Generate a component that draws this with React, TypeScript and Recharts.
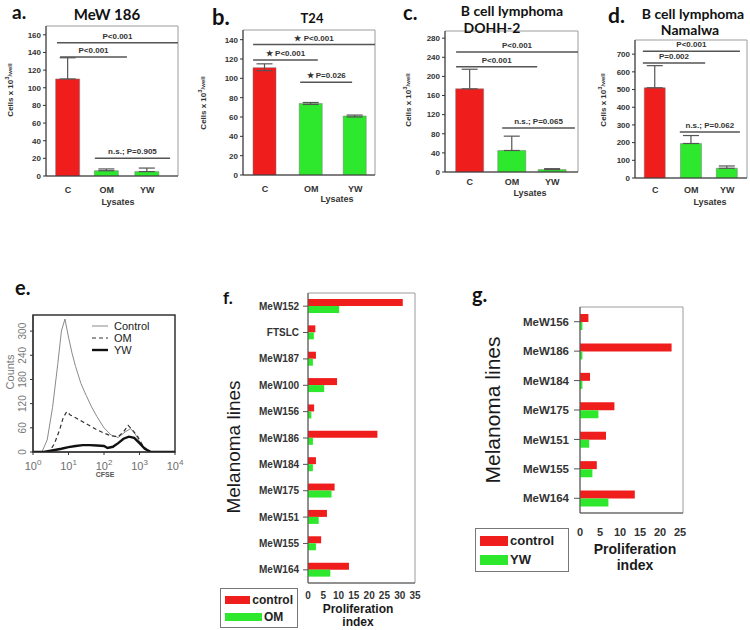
import React from 'react'
import {
  BarChart, Bar, Cell, XAxis, YAxis, ErrorBar, ReferenceLine, ReferenceArea,
  LineChart, Line, Legend,
} from 'recharts'

const RED = '#f01d1d'
const GREEN = '#2ee82e'
const INK = '#333'
const FRAME = '#9c9c9c'
const SANS = '"Liberation Sans", Arial, sans-serif'
const HEAD = 'Lato, "Open Sans", sans-serif'

// a-d: cells x 10^3/well after the lysates
const lysates = ['C', 'OM', 'YW']
const barColors = [RED, GREEN, GREEN]

// a. MeW 186
const mewPos = [0.5, 1.38, 2.3]
const mewCells = [110, 6, 5]
const mewErrDown = [0, 0, 0]
const mewErrUp = [24, 2, 4]
const mewSig = [
  { x1: 0.25, x2: 3, y: 151, text: 'P<0.001' },
  { x1: 0.32, x2: 1.84, y: 135, text: 'P<0.001' },
  { x1: 1.11, x2: 2.82, y: 20, text: 'n.s.; P=0.905' },
]

// b. T24
const t24Pos = [0.5, 1.55, 2.55]
const t24Cells = [111, 74, 61]
const t24ErrDown = [3, 1, 1]
const t24ErrUp = [4, 1, 1]
const t24Sig = [
  { x1: 0.23, x2: 3, y: 135, text: '★ P<0.001' },
  { x1: 0.23, x2: 1.7, y: 119, text: '★ P<0.001' },
  { x1: 1.3, x2: 2.48, y: 96, text: '★ P=0.026' },
]

// c. DOHH-2
const dohhPos = [0.56, 1.51, 2.42]
const dohhCells = [174, 45, 5]
const dohhErrDown = [0, 0, 0]
const dohhErrUp = [41, 30, 2]
const dohhSig = [
  { x1: 0.25, x2: 3, y: 251, text: 'P<0.001' },
  { x1: 0.25, x2: 2.08, y: 220, text: 'P<0.001' },
  { x1: 1.29, x2: 2.93, y: 92, text: 'n.s.; P=0.065' },
]

// d. Namalwa
const namPos = [0.54, 1.51, 2.47]
const namCells = [510, 195, 55]
const namErrDown = [0, 0, 0]
const namErrUp = [125, 45, 13]
const namSig = [
  { x1: 0.21, x2: 2.81, y: 717, text: 'P<0.001' },
  { x1: 0.21, x2: 1.88, y: 650, text: 'P=0.002' },
  { x1: 1.2, x2: 2.81, y: 260, text: 'n.s.; P=0.062' },
]

// e. CFSE histogram (x in log10 units)
const ctrlLog = [0, 0.25, 0.4, 0.55, 0.7, 0.8, 0.9, 1.0, 1.1, 1.2, 1.35, 1.5, 1.65, 1.8, 2.0, 2.2, 2.4, 2.6, 2.75, 2.9, 3.05, 3.2, 3.35, 4]
const ctrlCounts = [0, 0, 30, 110, 220, 300, 330, 285, 245, 212, 170, 140, 112, 88, 60, 42, 36, 50, 58, 42, 18, 4, 0, 0]
const omLog = [0, 0.45, 0.6, 0.75, 0.85, 0.95, 1.05, 1.2, 1.4, 1.6, 1.8, 2.0, 2.2, 2.4, 2.55, 2.68, 2.8, 2.95, 3.1, 3.25, 3.4, 4]
const omCounts = [0, 0, 20, 55, 85, 100, 92, 85, 75, 65, 55, 47, 40, 38, 50, 66, 55, 38, 15, 3, 0, 0]
const ywLog = [0, 0.3, 0.5, 0.8, 1.0, 1.2, 1.4, 1.6, 1.8, 2.0, 2.1, 2.25, 2.4, 2.55, 2.7, 2.85, 3.0, 3.15, 3.3, 3.5, 4]
const ywCounts = [0, 0, 3, 8, 12, 15, 17, 17, 16, 15, 10, 13, 22, 33, 38, 35, 22, 8, 1, 0, 0]
const flowNames = ['Control', 'OM', 'YW']

// f. proliferation index, OM
const fLines = ['MeW152', 'FTSLC', 'MeW187', 'MeW100', 'MeW156', 'MeW186', 'MeW184', 'MeW175', 'MeW151', 'MeW155', 'MeW164']
const fControl = [31, 2.4, 2.6, 9.5, 2, 22.7, 2.6, 8.7, 6.2, 4.3, 13.4]
const fOM = [10.2, 1.9, 1.6, 5.3, 1.1, 1.6, 1.6, 7.7, 3.5, 2.6, 7.3]
const fTicks = [0, 5, 10, 15, 20, 25, 30, 35]

// g. proliferation index, YW
const gLines = ['MeW156', 'MeW186', 'MeW184', 'MeW175', 'MeW151', 'MeW155', 'MeW164']
const gControl = [2.1, 22.9, 2.5, 8.6, 6.5, 4.2, 13.7]
const gYW = [0.6, 0.6, 0.6, 4.6, 2.3, 3.1, 7.1]
const gTicks = [0, 5, 10, 15, 20, 25]

type Sig = { x1: number; x2: number; y: number; text: string }
type Margin = { top: number; right: number; bottom: number; left: number }

const Tag = ({ x, y, text, size }: { x: number; y: number; text: string; size: number }) => (
  <div style={{ position: 'absolute', left: x, top: y, fontFamily: HEAD, fontWeight: 'bold', fontSize: size, lineHeight: 1.15, color: '#111' }}>
    {text}
  </div>
)

const Title = ({ cx, y, text, size }: { cx: number; y: number; text: string; size: number }) => (
  <div style={{ position: 'absolute', left: cx, top: y, transform: 'translateX(-50%)', whiteSpace: 'nowrap', fontFamily: HEAD, fontWeight: 'bold', fontSize: size, lineHeight: 1, color: '#111' }}>
    {text}
  </div>
)

function LysateChart(p: {
  left: number; top: number; width: number; height: number; margin: Margin
  yWidth: number; yMax: number; yTicks: number[]
  pos: number[]; cells: number[]; errDown: number[]; errUp: number[]; sig: Sig[]
  barSize: number; tickGap: number; yLab: [number, number]; lysLab: [number, number]
}) {
  const data = lysates.map((name, i) => ({
    name, pos: p.pos[i], cells: p.cells[i], err: [p.errDown[i], p.errUp[i]],
  }))
  const yLabel = () => (
    <text transform={`translate(${p.yLab[0]},${p.yLab[1]}) rotate(-90)`} textAnchor="middle" dominantBaseline="central" fontSize={8} fontWeight="bold" fill={INK}>
      Cells x 10<tspan fontSize={6} dy={-3}>3</tspan><tspan fontSize={6} dy={3}>/well</tspan>
    </text>
  )
  const xLabel = () => (
    <text x={p.lysLab[0]} y={p.lysLab[1]} textAnchor="middle" dominantBaseline="central" fontSize={9} fontWeight="bold" fill={INK}>
      Lysates
    </text>
  )
  return (
    <div style={{ position: 'absolute', left: p.left, top: p.top }}>
      <BarChart width={p.width} height={p.height} data={data} margin={p.margin}>
        <ReferenceArea x1={0} x2={3} y1={0} y2={p.yMax} fill="none" stroke={FRAME} ifOverflow="visible" />
        <XAxis
          dataKey="pos" type="number" domain={[0, 3]} ticks={p.pos} interval={0} allowDataOverflow
          tickFormatter={(v: number) => lysates[p.pos.indexOf(v)] ?? ''}
          tickLine={false} tickSize={4} tickMargin={p.tickGap} height={30} stroke={INK}
          tick={{ fontSize: 9, fontWeight: 'bold', fill: INK }}
          label={{ content: xLabel }}
        />
        <YAxis
          domain={[0, p.yMax]} ticks={p.yTicks} interval={0} allowDataOverflow width={p.yWidth}
          tickSize={3} tickMargin={2} stroke={INK}
          tick={{ fontSize: 8, fontWeight: 'bold', fill: INK }}
          label={{ content: yLabel }}
        />
        {p.sig.map((s, i) => (
          <ReferenceLine
            key={i}
            segment={[{ x: s.x1, y: s.y }, { x: s.x2, y: s.y }]}
            stroke="#555" strokeWidth={1.5} ifOverflow="visible"
            label={{ value: s.text, position: 'top', offset: 4, fontSize: 8, fontWeight: 'bold', fill: INK }}
          />
        ))}
        <Bar dataKey="cells" barSize={p.barSize} isAnimationActive={false}>
          {data.map((d, i) => (
            <Cell key={d.name} fill={barColors[i]} stroke="#777" strokeWidth={0.5} />
          ))}
          <ErrorBar dataKey="err" width={8} stroke="#555" strokeWidth={1.2} isAnimationActive={false} />
        </Bar>
      </BarChart>
    </div>
  )
}

const LogTick = ({ x, y, payload }: any) => (
  <text x={x} y={y + 13} textAnchor="middle" fill="#6e6e6e" style={{ fill: '#6e6e6e' }} fontSize={11}>
    10<tspan dy={-5} fontSize={8}>{payload.value}</tspan>
  </text>
)

const CountTick = ({ x, y, payload }: any) => (
  <text transform={`translate(${x - 2},${y}) rotate(-90)`} textAnchor="middle" fill="#777" fontSize={10}>
    {payload.value}
  </text>
)

const flowStyles = [
  { stroke: '#8a8a8a', width: 1, dash: undefined as string | undefined },
  { stroke: '#333', width: 1.2, dash: '4 3' },
  { stroke: '#111', width: 2.4, dash: undefined as string | undefined },
]

const FlowLegend = () => (
  <div style={{ fontFamily: SANS, fontSize: 11, color: '#222' }}>
    {flowNames.map((n, i) => (
      <div key={n} style={{ display: 'flex', alignItems: 'center', height: 12 }}>
        <svg width={16} height={6} style={{ marginRight: 6 }}>
          <line x1={0} x2={16} y1={3} y2={3} stroke={flowStyles[i].stroke} strokeWidth={flowStyles[i].width} strokeDasharray={flowStyles[i].dash} />
        </svg>
        {n}
      </div>
    ))}
  </div>
)

function FlowChart() {
  const series = [
    ctrlLog.map((x, i) => ({ log: x, counts: ctrlCounts[i] })),
    omLog.map((x, i) => ({ log: x, counts: omCounts[i] })),
    ywLog.map((x, i) => ({ log: x, counts: ywCounts[i] })),
  ]
  const countsLabel = () => (
    <text transform="translate(10,72) rotate(-90)" textAnchor="middle" dominantBaseline="central" fontSize={11} fill="#777">
      Counts
    </text>
  )
  const cfseLabel = () => (
    <text x={105} y={174} textAnchor="middle" dominantBaseline="central" fontSize={7} fontWeight="bold" fill="#555">
      CFSE
    </text>
  )
  return (
    <div style={{ position: 'absolute', left: 0, top: 300 }}>
      <LineChart width={190} height={190} margin={{ top: 15, right: 15, bottom: 8, left: 0 }}>
        <ReferenceArea x1={0} x2={4} y1={0} y2={340} fill="none" stroke="#333" strokeWidth={1.5} ifOverflow="visible" />
        <XAxis
          dataKey="log" type="number" domain={[0, 4]} ticks={[0, 1, 2, 3, 4]} interval={0} allowDataOverflow
          height={30} tickSize={3} stroke="#333" tick={<LogTick />} label={{ content: cfseLabel }}
        />
        <YAxis
          domain={[0, 340]} ticks={[0, 60, 120, 180, 240, 300]} interval={0} allowDataOverflow width={33}
          tickSize={3} stroke="#333" tick={<CountTick />} label={{ content: countsLabel }}
        />
        {series.map((d, i) => (
          <Line
            key={flowNames[i]} data={d} dataKey="counts" name={flowNames[i]} type="linear" dot={false}
            stroke={flowStyles[i].stroke} strokeWidth={flowStyles[i].width} strokeDasharray={flowStyles[i].dash}
            isAnimationActive={false}
          />
        ))}
        <Legend content={FlowLegend} layout="vertical" align="center" verticalAlign="middle" wrapperStyle={{ left: 92, top: 20, width: 80, height: 40 }} />
      </LineChart>
    </div>
  )
}

const swatchLegend = (names: string[], font: number, sw: number, sh: number, row: number) => () => (
  <div style={{ border: '1px solid #777', padding: '2px 4px', background: '#fff', boxSizing: 'border-box', width: '100%', height: '100%', fontFamily: SANS }}>
    {names.map((n, i) => (
      <div key={n} style={{ display: 'flex', alignItems: 'center', height: row }}>
        <span style={{ display: 'inline-block', width: sw, height: sh, background: i === 0 ? RED : GREEN, marginRight: 2 }} />
        <span style={{ fontSize: font, fontWeight: 'bold', color: '#222' }}>{n}</span>
      </div>
    ))}
  </div>
)

function ProlifChart(p: {
  left: number; top: number; width: number; height: number; margin: Margin; yWidth: number; xHeight: number
  xMax: number; xTicks: number[]; lines: string[]; control: number[]; treated: number[]; treatedName: string
  barSize: number; catFont: number; catTick: number; catGap: number; xFont: number; xGap: number
  mel: [number, number, number]; prolif: [number, number, number, number]
  legend: { left: number; top: number; width: number; height: number; font: number; sw: number; sh: number; row: number }
}) {
  const data = p.lines.map((line, i) => ({ line, control: p.control[i], treated: p.treated[i] }))
  const melLabel = () => (
    <text transform={`translate(${p.mel[0]},${p.mel[1]}) rotate(-90)`} textAnchor="middle" dominantBaseline="central" fontSize={p.mel[2]} fill="#1a1a1a">
      Melanoma lines
    </text>
  )
  const prolifLabel = () => (
    <text textAnchor="middle" fontSize={p.prolif[3]} fontWeight="bold" fill="#1a1a1a">
      <tspan x={p.prolif[0]} y={p.prolif[1]} dominantBaseline="central">Proliferation</tspan>
      <tspan x={p.prolif[0]} y={p.prolif[2]} dominantBaseline="central">index</tspan>
    </text>
  )
  const lg = p.legend
  return (
    <div style={{ position: 'absolute', left: p.left, top: p.top }}>
      <BarChart layout="vertical" width={p.width} height={p.height} data={data} margin={p.margin} barGap={0}>
        <ReferenceArea x1={0} x2={p.xMax} fill="none" stroke={FRAME} ifOverflow="visible" />
        <XAxis
          type="number" domain={[0, p.xMax]} ticks={p.xTicks} interval={0} allowDataOverflow
          tickLine={false} tickSize={4} tickMargin={p.xGap} height={p.xHeight}
          stroke="#555" tick={{ fontSize: p.xFont, fontWeight: 'bold', fill: INK }}
          label={{ content: prolifLabel }}
        />
        <YAxis
          type="category" dataKey="line" width={p.yWidth} interval={0}
          tickSize={p.catTick} tickMargin={p.catGap} stroke="#555"
          tick={{ fontSize: p.catFont, fontWeight: 'bold', fill: INK }}
          label={{ content: melLabel }}
        />
        <Bar dataKey="control" name="control" fill={RED} barSize={p.barSize} isAnimationActive={false} />
        <Bar dataKey="treated" name={p.treatedName} fill={GREEN} barSize={p.barSize} isAnimationActive={false} />
        <Legend
          content={swatchLegend(['control', p.treatedName], lg.font, lg.sw, lg.sh, lg.row)}
          layout="vertical" align="center" verticalAlign="middle"
          wrapperStyle={{ left: lg.left, top: lg.top, width: lg.width, height: lg.height }}
        />
      </BarChart>
    </div>
  )
}

export default function App() {
  return (
    <div style={{ position: 'absolute', left: 0, top: 0, width: 750, height: 630, background: '#fff', fontFamily: SANS, overflow: 'hidden' }}>
      <LysateChart
        left={0} top={0} width={190} height={210} margin={{ top: 26, right: 12, bottom: 4, left: 0 }}
        yWidth={46} yMax={170} yTicks={[0, 20, 40, 60, 80, 100, 120, 140, 160]}
        pos={mewPos} cells={mewCells} errDown={mewErrDown} errUp={mewErrUp} sig={mewSig}
        barSize={24} tickGap={7} yLab={[10, 90]} lysLab={[118, 202]}
      />
      <LysateChart
        left={185} top={0} width={195} height={210} margin={{ top: 30, right: 5, bottom: 5, left: 0 }}
        yWidth={58} yMax={150} yTicks={[0, 20, 40, 60, 80, 100, 120, 140]}
        pos={t24Pos} cells={t24Cells} errDown={t24ErrDown} errUp={t24ErrUp} sig={t24Sig}
        barSize={23} tickGap={7} yLab={[18, 103]} lysLab={[152, 199]}
      />
      <LysateChart
        left={370} top={0} width={210} height={210} margin={{ top: 31, right: 2, bottom: 8, left: 0 }}
        yWidth={75} yMax={295} yTicks={[0, 40, 80, 120, 160, 200, 240, 280]}
        pos={dohhPos} cells={dohhCells} errDown={dohhErrDown} errUp={dohhErrUp} sig={dohhSig}
        barSize={28} tickGap={3} yLab={[38, 100]} lysLab={[160, 193]}
      />
      <LysateChart
        left={550} top={0} width={200} height={210} margin={{ top: 40, right: 3, bottom: 2, left: 0 }}
        yWidth={85} yMax={780} yTicks={[0, 100, 200, 300, 400, 500, 600, 700]}
        pos={namPos} cells={namCells} errDown={namErrDown} errUp={namErrUp} sig={namSig}
        barSize={21} tickGap={5} yLab={[53, 100]} lysLab={[160, 202]}
      />
      <FlowChart />
      <ProlifChart
        left={210} top={285} width={215} height={345} margin={{ top: 8, right: 10, bottom: 5, left: 0 }} yWidth={98} xHeight={42}
        xMax={35} xTicks={fTicks} lines={fLines} control={fControl} treated={fOM} treatedName="OM"
        barSize={7} catFont={10} catTick={5} catGap={4} xFont={10} xGap={5}
        mel={[23, 162, 19]} prolif={[148, 324, 337, 12]}
        legend={{ left: 10, top: 303, width: 78, height: 40, font: 12, sw: 37, sh: 8, row: 17 }}
      />
      <ProlifChart
        left={460} top={290} width={240} height={300} margin={{ top: 17, right: 17, bottom: 7, left: 0 }} yWidth={120} xHeight={70}
        xMax={25.75} xTicks={gTicks} lines={gLines} control={gControl} treated={gYW} treatedName="YW"
        barSize={8} catFont={11.5} catTick={6} catGap={5} xFont={11} xGap={11}
        mel={[32, 120, 21]} prolif={[175, 259, 275, 14]}
        legend={{ left: 15, top: 238, width: 94, height: 44, font: 13, sw: 28, sh: 10, row: 19 }}
      />

      <Tag x={12} y={1} text="a." size={19} />
      <Title cx={107} y={7} text="MeW 186" size={15} />
      <Tag x={212} y={4} text="b." size={22} />
      <Title cx={312} y={12} text="T24" size={13} />
      <Tag x={403} y={1} text="c." size={20} />
      <Title cx={512} y={4} text="B cell lymphoma" size={14} />
      <Title cx={492} y={21} text="DOHH-2" size={14} />
      <Tag x={608} y={3} text="d." size={21} />
      <Title cx={693} y={7} text="B cell lymphoma" size={14} />
      <Title cx={690} y={23} text="Namalwa" size={14} />
      <Tag x={15} y={276} text="e." size={20} />
      <Tag x={223} y={288} text="f." size={17} />
      <Tag x={472} y={283} text="g." size={20} />
    </div>
  )
}
